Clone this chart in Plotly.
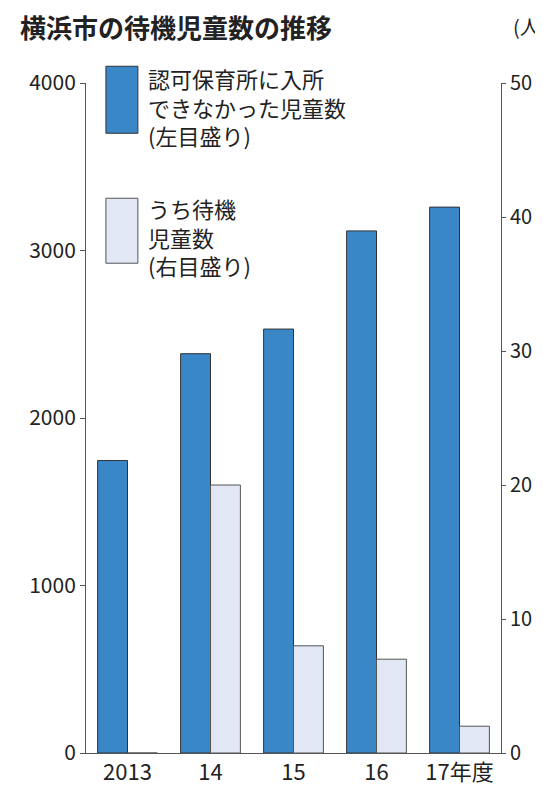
import plotly.graph_objects as go

years = ["2013", "14", "15", "16", "17年度"]
not_admitted = [1746, 2384, 2531, 3117, 3259]
waiting = [0, 20, 8, 7, 2]

F = "Noto Sans CJK JP"
fig = go.Figure()
fig.add_trace(go.Bar(x=years, y=not_admitted, marker=dict(color="#3a87c8", line=dict(color="#333", width=1)),
                     offsetgroup=0, yaxis="y"))
fig.add_trace(go.Bar(x=years, y=waiting, marker=dict(color="#e1e7f5", line=dict(color="#555", width=1)),
                     offsetgroup=1, yaxis="y2"))

fig.update_layout(
    width=543, height=799, margin=dict(l=78, r=50, t=75, b=54),
    paper_bgcolor="white", plot_bgcolor="white", showlegend=False,
    barmode="group", bargap=0.28, bargroupgap=0,
    font=dict(family=F, size=21, color="#222"),
    xaxis=dict(showline=True, linecolor="#555", ticks="", tickfont=dict(size=22)),
    yaxis=dict(range=[0, 4000], tickvals=[0, 1000, 2000, 3000, 4000], showline=True, linecolor="#555",
               ticks="outside", ticklen=5, tickcolor="#555", showgrid=False, tickfont=dict(size=21)),
    yaxis2=dict(range=[0, 50], tickvals=[0, 10, 20, 30, 40, 50], overlaying="y", side="right", showline=True,
                linecolor="#555", ticks="outside", ticklen=4, tickcolor="#555", showgrid=False,
                tickfont=dict(size=20)),
    shapes=[
        dict(type="rect", xref="paper", yref="paper", x0=0.048, x1=0.125, y0=0.925, y1=1.025,
             fillcolor="#3a87c8", line=dict(color="#333", width=1)),
        dict(type="rect", xref="paper", yref="paper", x0=0.048, x1=0.125, y0=0.731, y1=0.828,
             fillcolor="#e1e7f5", line=dict(color="#555", width=1)),
    ],
    annotations=[
        dict(text="<b>横浜市の待機児童数の推移</b>", xref="paper", yref="paper", x=-0.165, y=1.085,
             xanchor="left", yanchor="middle", showarrow=False, font=dict(size=26)),
        dict(text="(人)", xref="paper", yref="paper", x=1.115, y=1.085, xanchor="right", yanchor="middle",
             showarrow=False, font=dict(size=20)),
        dict(text="認可保育所に入所<br>できなかった児童数<br>(左目盛り)", xref="paper", yref="paper",
             x=0.145, y=1.035, xanchor="left", yanchor="top", align="left", showarrow=False,
             font=dict(size=22)),
        dict(text="うち待機<br>児童数<br>(右目盛り)", xref="paper", yref="paper",
             x=0.145, y=0.84, xanchor="left", yanchor="top", align="left", showarrow=False,
             font=dict(size=22)),
    ],
)
fig.write_html("out.html")
